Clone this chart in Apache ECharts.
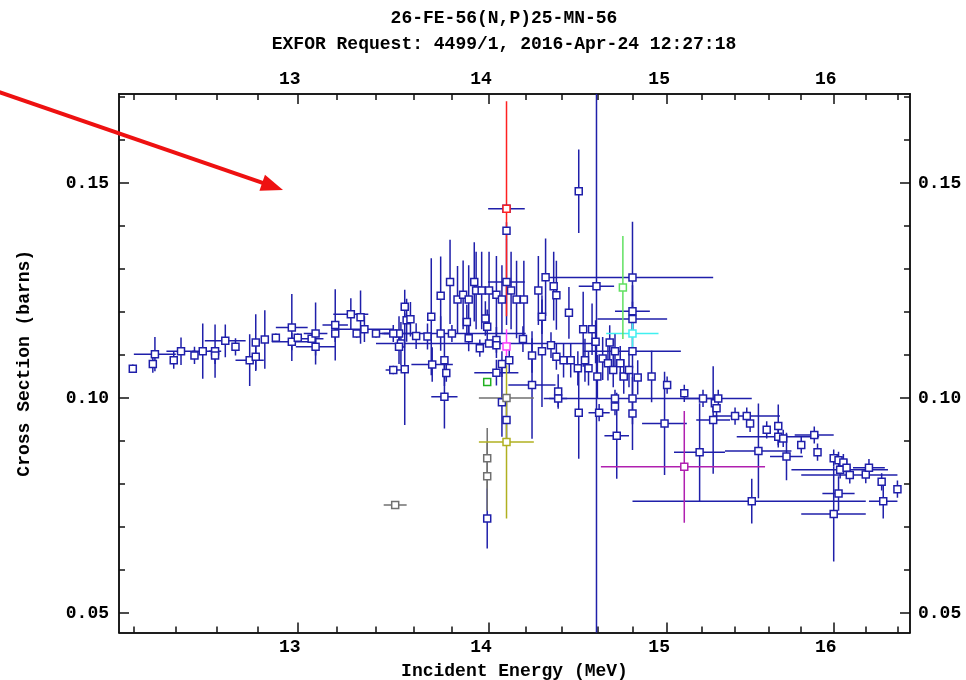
<!DOCTYPE html>
<html>
<head>
<meta charset="utf-8">
<script src="https://cdn.jsdelivr.net/npm/echarts@6/dist/echarts.min.js"></script>
<style>html,body{margin:0;padding:0;background:#fff}#c{width:966px;height:680px}</style>
</head>
<body>
<div id="c"></div>
<script>
// ---- data: [energy (MeV), cross section (b), dE, dSigma] ----
const titleLine1 = '26-FE-56(N,P)25-MN-56';
const titleLine2 = 'EXFOR Request: 4499/1, 2016-Apr-24 12:27:18';
const xName = 'Incident Energy (MeV)';
const yName = 'Cross Section (barns)';

const energyMajorTicks = [13, 14, 15, 16];
const energyMinorTicks = [12.2, 12.4, 12.6, 12.8, 13.2, 13.4, 13.6, 13.8, 14.2, 14.4, 14.6, 14.8, 15.2, 15.4, 15.6, 15.8, 16.2, 16.4];
const sigmaMajorTicks = [0.05, 0.10, 0.15];
const sigmaMinorTicks = [0.06, 0.07, 0.08, 0.09, 0.11, 0.12, 0.13, 0.14, 0.16, 0.17];

const blueData = [
  [12.195,0.1068,0,0.001],[12.30,0.1102,0.1,0.004],[12.29,0.1079,0,0.002],[12.39,0.1088,0,0.002],
  [12.425,0.1109,0.07,0.0032],[12.49,0.1099,0,0.002],[12.53,0.1109,0.05,0.0064],[12.59,0.1109,0.03,0.0062],
  [12.59,0.1099,0,0.002],[12.64,0.1133,0.1,0.0038],[12.69,0.1119,0,0.002],[12.76,0.1088,0.07,0.006],
  [12.79,0.1129,0,0.0066],[12.79,0.1096,0,0.003],[12.835,0.1136,0,0.0068],[12.89,0.114,0,0.001],
  [12.97,0.1164,0.08,0.0078],[12.97,0.1131,0.1,0.002],[13.0,0.114,0,0.001],[13.07,0.1138,0.06,0.001],
  [13.09,0.115,0.06,0.0072],[13.09,0.1119,0.1,0.002],[13.19,0.117,0.065,0.0083],[13.19,0.115,0,0.002],
  [13.27,0.1195,0.09,0.0037],[13.32,0.1188,0,0.0062],[13.30,0.115,0,0.001],[13.34,0.116,0.15,0.003],
  [13.40,0.115,0,0.001],[13.49,0.1065,0.04,0.001],[13.55,0.1067,0,0.013],[13.55,0.1212,0,0.004],
  [13.56,0.1181,0,0.005],[13.58,0.1183,0,0.004],[13.52,0.115,0.09,0.004],[13.53,0.1127,0,0.005],
  [13.52,0.1119,0,0.004],[13.49,0.115,0.05,0.002],[13.61,0.1144,0,0.003],[13.69,0.1189,0,0.0136],
  [13.695,0.1078,0.11,0.004],[13.67,0.1143,0,0.003],[13.74,0.1238,0,0.0091],[13.74,0.115,0,0.004],
  [13.76,0.1088,0,0.006],[13.77,0.1058,0,0.002],[13.76,0.1003,0.07,0.0074],[13.79,0.127,0,0.0098],
  [13.80,0.115,0.4,0.002],[13.83,0.1229,0,0.0078],[13.86,0.124,0,0.008],[13.89,0.1229,0,0.008],
  [13.88,0.1177,0,0.004],[13.89,0.1139,0,0.003],[13.92,0.127,0,0.0092],[13.93,0.125,0,0.009],
  [13.96,0.125,0,0.009],[14.0,0.125,0,0.009],[13.98,0.1185,0,0.004],[13.99,0.1166,0,0.004],
  [13.95,0.1116,0,0.002],[14.04,0.124,0,0.009],[14.07,0.1229,0,0.008],[14.095,0.127,0.1,0.01],
  [14.095,0.1389,0,0.002],[14.12,0.125,0,0.009],[14.15,0.1229,0,0.009],[14.19,0.1229,0,0.009],
  [14.04,0.1135,0,0.003],[14.04,0.1123,0,0.003],[14.07,0.1079,0,0.003],[14.04,0.1059,0.12,0.003],
  [14.07,0.099,0,0.008],[14.095,0.0949,0,0.006],[14.11,0.1088,0,0.003],[14.185,0.1137,0,0.003],
  [14.235,0.1099,0,0.004],[14.235,0.103,0.13,0.0125],[14.29,0.1109,0,0.013],[14.29,0.1189,0,0.004],
  [14.31,0.1281,0,0.009],[14.27,0.125,0,0.008],[14.355,0.126,0,0.008],[14.37,0.1096,0,0.003],
  [14.38,0.1015,0,0.004],[14.37,0.1239,0,0.008],[14.495,0.1481,0,0.0097],[14.44,0.1198,0,0.006],
  [14.52,0.116,0,0.0087],[14.57,0.116,0,0.006],[14.595,0.126,0.1,0.1],[14.8,0.128,0.47,0.013],
  [14.8,0.1202,0.1,0.006],[14.8,0.1184,0.2,0.004],[14.8,0.1109,0.28,0.004],[14.8,0.0999,0.5,0.006],
  [14.8,0.0964,0,0.0085],[14.67,0.1129,0,0.004],[14.70,0.1109,0,0.004],[14.34,0.1123,0,0.003],
  [14.41,0.1088,0,0.004],[14.45,0.1088,0,0.004],[14.49,0.1069,0,0.004],[14.53,0.1088,0,0.005],
  [14.55,0.1069,0,0.004],[14.59,0.1131,0,0.005],[14.63,0.1092,0,0.005],[14.66,0.1081,0,0.004],
  [14.69,0.1065,0,0.004],[14.73,0.1081,0,0.004],[14.75,0.105,0,0.004],[14.78,0.1065,0,0.004],
  [14.83,0.1048,0,0.004],[14.60,0.105,0,0.005],[14.38,0.0999,0.05,0.002],[14.495,0.0966,0,0.0107],
  [14.61,0.0966,0.06,0.002],[14.70,0.0999,0,0.002],[14.70,0.098,0,0.002],[14.71,0.0912,0.07,0.01],
  [14.91,0.105,0,0.006],[15.0,0.103,0,0.002],[14.985,0.0941,0.13,0.012],[15.1,0.1011,0,0.002],
  [15.19,0.0874,0.15,0.0114],[15.21,0.0999,0,0.002],[15.28,0.0988,0,0.002],[15.27,0.0949,0.1,0.0125],
  [15.30,0.0999,0.2,0.002],[15.29,0.0976,0,0.002],[15.4,0.0958,0,0.002],[15.47,0.0958,0.2,0.002],
  [15.49,0.0941,0,0.002],[15.59,0.0926,0,0.002],[15.66,0.0935,0,0.005],[15.66,0.091,0.25,0.002],
  [15.69,0.0906,0,0.002],[15.88,0.0914,0.12,0.002],[15.8,0.0891,0,0.002],[15.9,0.0874,0,0.002],
  [15.54,0.0877,0.2,0.011],[15.71,0.0864,0.1,0.0055],[15.5,0.076,0.7,0.0052],[16.0,0.073,0.2,0.011],
  [16.03,0.0778,0.1,0.004],[16.0,0.086,0,0.002],[16.03,0.0855,0,0.002],[16.06,0.085,0,0.002],
  [16.04,0.0833,0.3,0.002],[16.08,0.0838,0,0.002],[16.1,0.0821,0.3,0.002],[16.2,0.0822,0,0.002],
  [16.22,0.0838,0.1,0.002],[16.3,0.0805,0,0.002],[16.31,0.076,0.09,0.004],[16.4,0.0788,0,0.002],
  [16.6,0.0734,0.12,0],[14.0,0.1127,0.6,0],[13.99,0.072,0,0.007],[14.095,0.144,0.1,0]
];
const redData = [[14.095,0.144,0,0.025]];
const lightGreenData = [[14.745,0.1257,0,0.012]];
const greenData = [[13.99,0.1037,0,0]];
const cyanData = [[14.8,0.115,0.15,0.005]];
const magentaData = [[15.1,0.084,0.48,0.013]];
const pinkData = [[14.095,0.112,0,0.004]];
const oliveData = [[14.095,0.0898,0.15,0.0178]];
const greyData = [[14.095,0.1,0.15,0],[13.99,0.086,0,0.007],[13.99,0.0818,0,0.008],[13.5,0.0751,0.06,0]];

// ---- presentation ----
const FONT = '"Liberation Mono", "DejaVu Sans Mono", monospace';
const X_MIN = 12.13, X_MAX = 16.48, Y_MIN = 0.04547, Y_MAX = 0.1707;
const groups = [
  {data: blueData, color: '#1f1faa'},
  {data: greyData, color: '#707070'},
  {data: oliveData, color: '#b0b020'},
  {data: magentaData, color: '#b020b0'},
  {data: pinkData, color: '#ff40ff'},
  {data: cyanData, color: '#40f0f0'},
  {data: greenData, color: '#20b020'},
  {data: lightGreenData, color: '#60e060'},
  {data: redData, color: '#ff2020'}
];

const chart = echarts.init(document.getElementById('c'), null, {renderer: 'canvas'});

function errRender(color) {
  return function (params, api) {
    const x = api.value(0), y = api.value(1), dx = api.value(2), dy = api.value(3);
    const children = [];
    const style = {stroke: color, lineWidth: 1.5};
    if (dx > 0) {
      const a = api.coord([x - dx, y]), b = api.coord([x + dx, y]);
      children.push({type: 'line', shape: {x1: a[0], y1: a[1], x2: b[0], y2: b[1]}, style});
    }
    if (dy > 0) {
      const a = api.coord([x, y - dy]), b = api.coord([x, y + dy]);
      children.push({type: 'line', shape: {x1: a[0], y1: a[1], x2: b[0], y2: b[1]}, style});
    }
    return {type: 'group', children};
  };
}

const series = [];
groups.forEach(function (g) {
  series.push({
    type: 'custom', data: g.data, renderItem: errRender(g.color), clip: true, silent: true,
    encode: {x: 0, y: 1}, z: 2
  });
});
groups.forEach(function (g) {
  series.push({
    type: 'scatter', data: g.data.map(d => [d[0], d[1]]), symbol: 'rect', symbolSize: 7,
    itemStyle: {color: '#ffffff', borderColor: g.color, borderWidth: 1.5, opacity: 1},
    clip: true, silent: true, z: 3
  });
});

const axisLineStyle = {show: true, lineStyle: {color: '#111', width: 1.5}};
const labelFont = {color: '#000', fontFamily: FONT, fontWeight: 'bold', fontSize: 18};

function xAxisDef(pos, major) {
  return {
    type: 'log', logBase: 10, position: pos, min: X_MIN, max: X_MAX,
    axisLine: axisLineStyle, splitLine: {show: false}, minorTick: {show: false},
    axisTick: {show: true, inside: true, length: major ? 10 : 6, customValues: major ? energyMajorTicks : energyMinorTicks,
               lineStyle: {color: '#111', width: 1.5}},
    axisLabel: major ? Object.assign({show: true, customValues: energyMajorTicks, margin: 6,
               padding: [0, 16, 0, 0], formatter: v => String(Math.round(v))}, labelFont) : {show: false},
    name: (major && pos === 'bottom') ? xName : '',
    nameLocation: 'middle', nameGap: 30,
    nameTextStyle: labelFont
  };
}
function yAxisDef(pos, major) {
  return {
    type: 'value', position: pos, min: Y_MIN, max: Y_MAX,
    axisLine: axisLineStyle, splitLine: {show: false},
    axisTick: {show: true, inside: true, length: major ? 10 : 6, customValues: major ? sigmaMajorTicks : sigmaMinorTicks,
               lineStyle: {color: '#111', width: 1.5}},
    axisLabel: major ? Object.assign({show: true, customValues: sigmaMajorTicks, margin: pos === 'left' ? 10 : 8,
               formatter: v => v.toFixed(2)}, labelFont) : {show: false},
    name: (major && pos === 'left') ? yName : '',
    nameLocation: 'middle', nameGap: 86,
    nameTextStyle: labelFont
  };
}

// arrow annotation
const tip = [283, 190], tail = [-4, 91];
const L = Math.hypot(tip[0] - tail[0], tip[1] - tail[1]);
const ux = (tip[0] - tail[0]) / L, uy = (tip[1] - tail[1]) / L;
const headLen = 22, headHalf = 8.5;
const base = [tip[0] - ux * headLen, tip[1] - uy * headLen];

chart.setOption({
  animation: false,
  backgroundColor: '#ffffff',
  grid: {left: 119, right: 56, top: 94, bottom: 47.5, containLabel: false, outerBoundsMode: 'none'},
  xAxis: [xAxisDef('bottom', true), xAxisDef('bottom', false), xAxisDef('top', true), xAxisDef('top', false)],
  yAxis: [yAxisDef('left', true), yAxisDef('left', false), yAxisDef('right', true), yAxisDef('right', false)],
  series: series,
  graphic: [
    {type: 'text', x: 504, y: 18, style: {text: titleLine1, fill: '#000', font: 'bold 18px ' + FONT, textAlign: 'center', textVerticalAlign: 'middle'}},
    {type: 'text', x: 504, y: 44, style: {text: titleLine2, fill: '#000', font: 'bold 18px ' + FONT, textAlign: 'center', textVerticalAlign: 'middle'}},
    {type: 'line', shape: {x1: tail[0], y1: tail[1], x2: base[0] + ux * 2, y2: base[1] + uy * 2}, style: {stroke: '#ee1111', lineWidth: 4}, z: 100},
    {type: 'polygon', shape: {points: [tip, [base[0] - uy * headHalf, base[1] + ux * headHalf], [base[0] + uy * headHalf, base[1] - ux * headHalf]]},
     style: {fill: '#ee1111'}, z: 100}
  ]
});
</script>
</body>
</html>
